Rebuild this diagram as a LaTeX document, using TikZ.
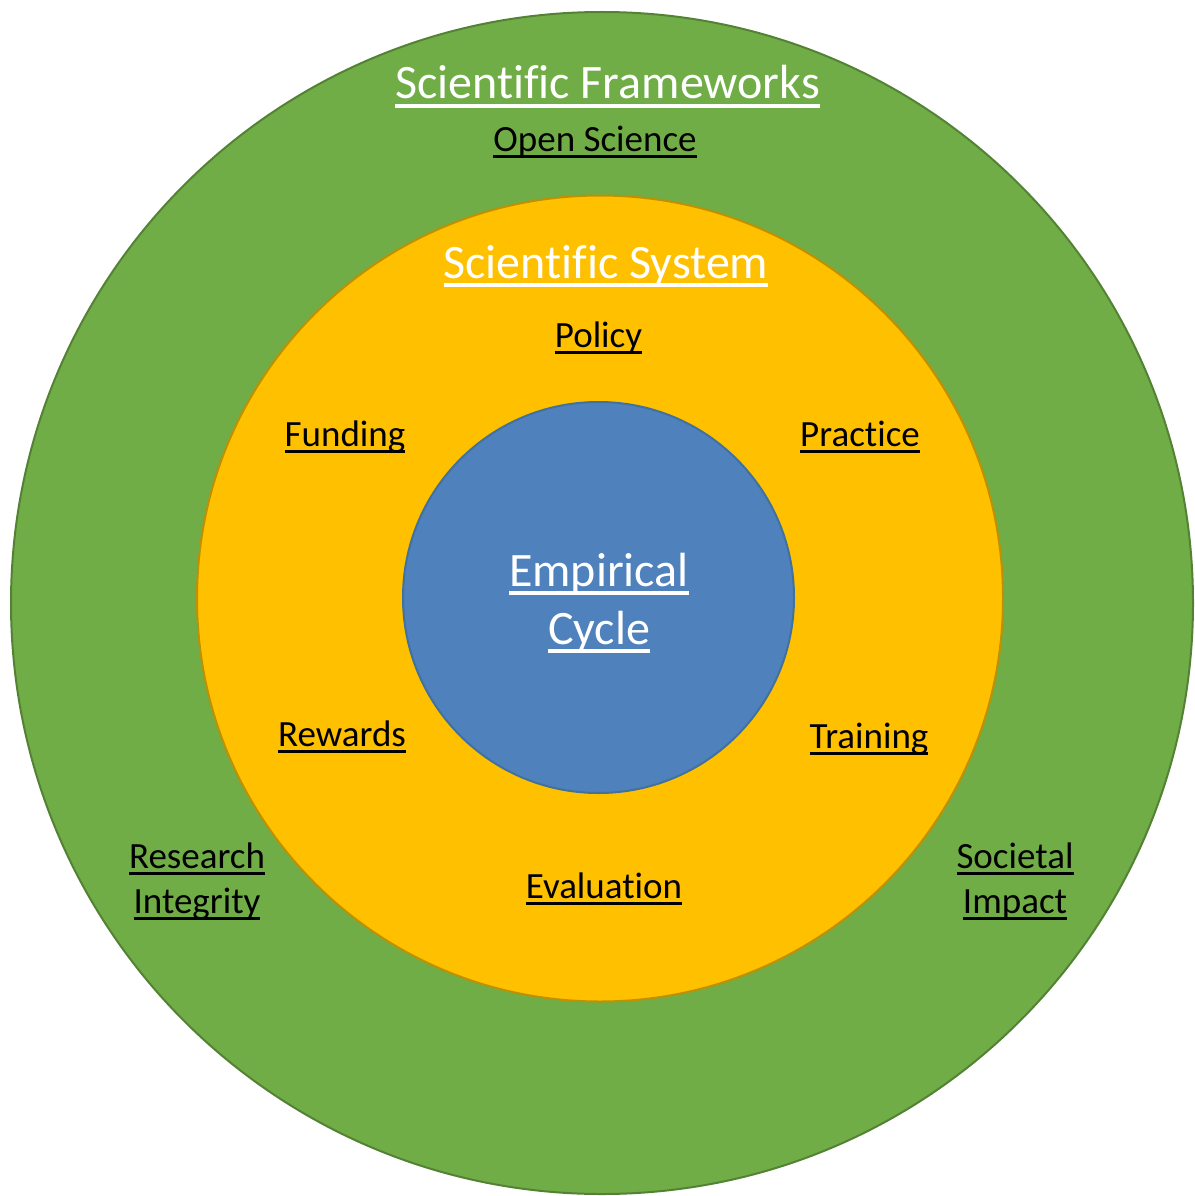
\documentclass[tikz,border=0pt]{standalone}
\usepackage{fontspec}
\setmainfont{Carlito}[Ligatures=NoCommon]
\definecolor{ogreen}{HTML}{70AD47}
\definecolor{ogreenline}{HTML}{548235}
\definecolor{oyellow}{HTML}{FFC000}
\definecolor{oyellowline}{HTML}{BF9000}
\definecolor{oblue}{HTML}{4F81BD}
\definecolor{oblueline}{HTML}{41719C}
\newcommand\myul[1]{\leavevmode\setbox0=\hbox{#1}\rlap{\rule[-0.19em]{\wd0}{0.085em}}\box0}
\tikzset{
  ring/.style={line width=2pt},
  biglabel/.style={anchor=base, inner sep=0pt, text=white, align=center,
    font=\fontsize{48}{58}\selectfont},
  smalllabel/.style={anchor=base, inner sep=0pt, text=black, align=center,
    font=\fontsize{37}{45}\selectfont}
}
\begin{document}
\begin{tikzpicture}[x=1pt,y=-1pt]
\useasboundingbox (0,0) rectangle (1194,1196);
\begin{scope}
\clip (0,0) rectangle (1194,1196);
\draw[ring, fill=ogreen, draw=ogreenline] (602,603) circle[radius=591];
\end{scope}
\draw[ring, fill=oyellow, draw=oyellowline] (600,598.5) circle[radius=403];
\draw[ring, fill=oblue, draw=oblueline] (598.5,597.5) circle[radius=195.5];

\node[biglabel] (frameworks) at (607.5,99) {\myul{Scientific Frameworks}};
\node[smalllabel] (open) at (595,151) {\myul{Open Science}};
\node[biglabel] (system) at (606,278) {\myul{Scientific System}};
\node[smalllabel] (policy) at (598.5,347) {\myul{Policy}};
\node[smalllabel] (funding) at (345,446) {\myul{Funding}};
\node[smalllabel] (practice) at (860,446) {\myul{Practice}};
\node[biglabel] (cycle) at (599,644) {\myul{Empirical}\\\myul{Cycle}};
\node[smalllabel] (rewards) at (342,746) {\myul{Rewards}};
\node[smalllabel] (training) at (869,748) {\myul{Training}};
\node[smalllabel] (integrity) at (197,913) {\myul{Research}\\\myul{Integrity}};
\node[smalllabel] (evaluation) at (604,898) {\myul{Evaluation}};
\node[smalllabel] (impact) at (1015,913) {\myul{Societal}\\\myul{Impact}};
\end{tikzpicture}
\end{document}
